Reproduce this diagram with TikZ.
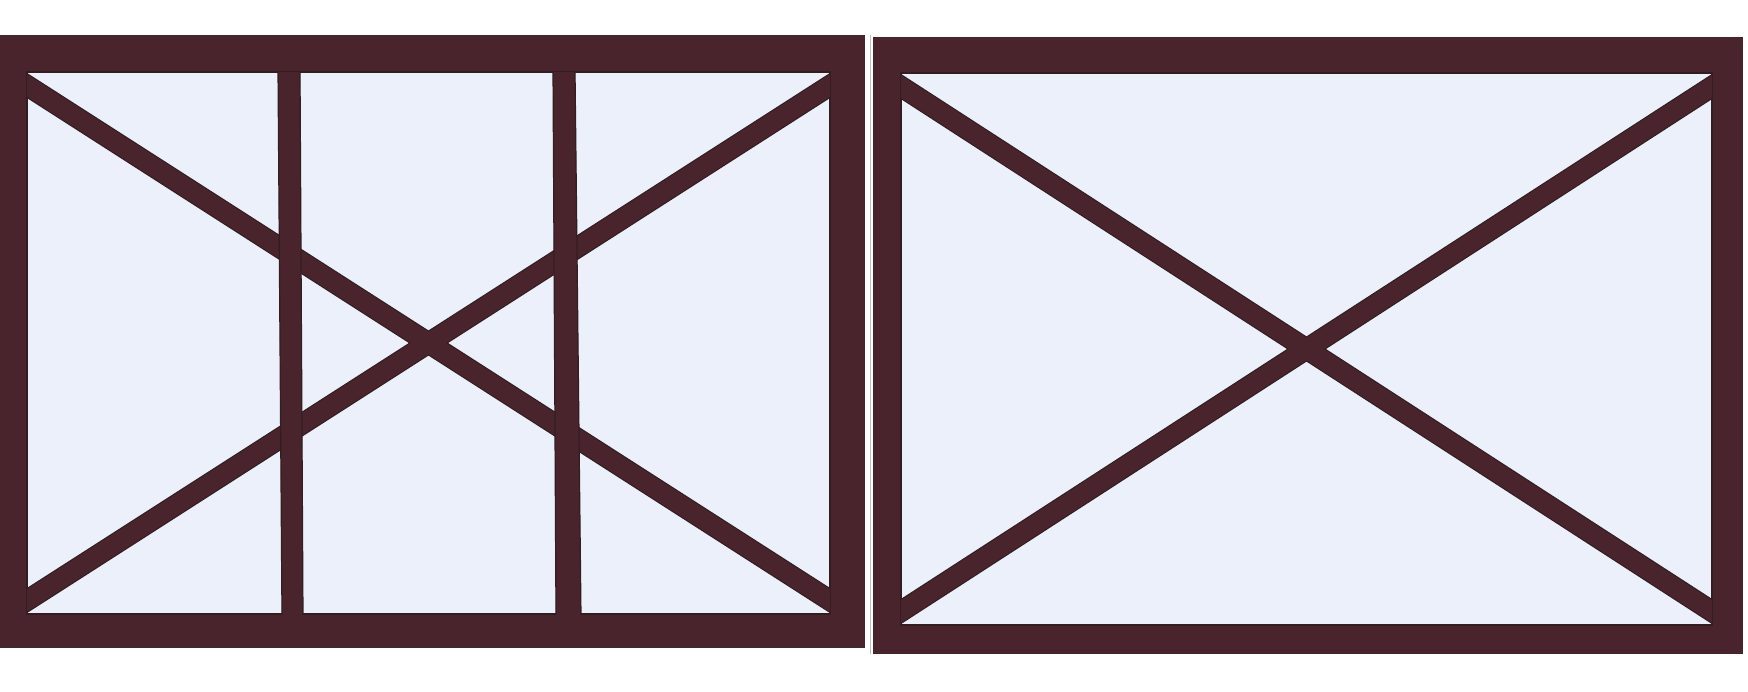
\documentclass[tikz,border=0pt]{standalone}
\begin{document}
\begin{tikzpicture}[x=0.5pt,y=-0.5pt]
\definecolor{framecol}{RGB}{74,36,44}
\definecolor{edgecol}{RGB}{50,30,32}
\definecolor{panecol}{RGB}{236,240,250}
\tikzset{
  bar/.style={fill=framecol,draw=edgecol,line width=0.6pt},
  braceedge/.style={draw=edgecol,line width=10.6pt,line cap=butt},
  brace/.style={draw=framecol,line width=9.4pt,line cap=butt}
}
\useasboundingbox (0,0) rectangle (1748,691);
\fill[white] (0,0) rectangle (1748,691);
\draw[black!25,line width=0.5pt] (870,35) -- (870,654);
% left window
\fill[framecol] (0,35) rectangle (865,648);
\filldraw[fill=panecol,draw=edgecol,line width=0.6pt] (27,72) rectangle (830,614);
\begin{scope}
  \clip (27,72) rectangle (830,614);
  \draw[braceedge] (20,81) -- (837,605);
  \draw[braceedge] (20,605) -- (837,81);
  \draw[brace] (20,81) -- (837,605);
  \draw[brace] (20,605) -- (837,81);
  \filldraw[bar] (278,70) -- (300,70) -- (303,616) -- (282,616) -- cycle;
  \filldraw[bar] (553,70) -- (575,70) -- (581,616) -- (556,616) -- cycle;
\end{scope}
% right window
\fill[framecol] (873,37) rectangle (1743,654);
\filldraw[fill=panecol,draw=edgecol,line width=0.6pt] (901,73) rectangle (1712,625);
\begin{scope}
  \clip (901,73) rectangle (1712,625);
  \draw[braceedge] (894,82) -- (1719,616);
  \draw[braceedge] (894,616) -- (1719,82);
  \draw[brace] (894,82) -- (1719,616);
  \draw[brace] (894,616) -- (1719,82);
\end{scope}
\end{tikzpicture}
\end{document}
